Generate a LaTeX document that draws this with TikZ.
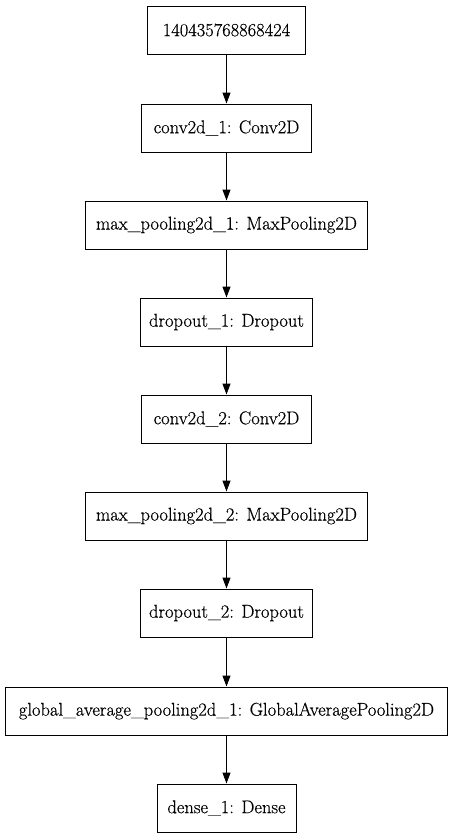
\documentclass[tikz,border=0pt]{standalone}
\usepackage{fontspec}
\newfontfamily\lblfont{Latin Modern Roman}[FakeBold=0.5]
\usetikzlibrary{arrows.meta}
\begin{document}
\begin{tikzpicture}[x=1pt,y=1pt,
  layer/.style={draw=black,line width=1pt,minimum height=48pt,inner sep=0pt,
    font=\lblfont\fontsize{18.5}{22}\selectfont,fill=white},
  conn/.style={line width=1pt,-{Triangle[length=11pt,width=8pt]}}]
\useasboundingbox (0,0) rectangle (453,-839);
\node[layer,minimum width=158pt] (n1) at (226.5,-30) {140435768868424};
\node[layer,minimum width=170pt] (n2) at (226.5,-128) {conv2d\_1: Conv2D};
\node[layer,minimum width=282pt] (n3) at (226.5,-225) {max\_pooling2d\_1: MaxPooling2D};
\node[layer,minimum width=172pt] (n4) at (226.5,-322) {dropout\_1: Dropout};
\node[layer,minimum width=170pt] (n5) at (226.5,-419) {conv2d\_2: Conv2D};
\node[layer,minimum width=282pt] (n6) at (226.5,-516) {max\_pooling2d\_2: MaxPooling2D};
\node[layer,minimum width=172pt] (n7) at (226.5,-613) {dropout\_2: Dropout};
\node[layer,minimum width=442pt] (n8) at (226.5,-711) {global\_average\_pooling2d\_1: GlobalAveragePooling2D};
\node[layer,minimum width=139pt] (n9) at (226.5,-808) {dense\_1: Dense};
\foreach \a/\b in {n1/n2,n2/n3,n3/n4,n4/n5,n5/n6,n6/n7,n7/n8,n8/n9}
  \draw[conn] (\a.south) -- (\b.north);
\end{tikzpicture}
\end{document}
